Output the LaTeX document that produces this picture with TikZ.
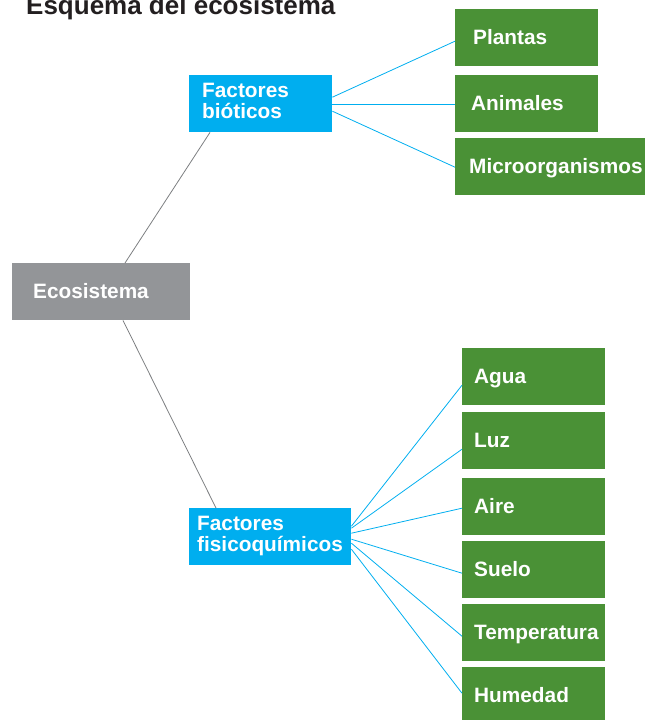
\documentclass[tikz,border=0pt]{standalone}
\usepackage{fontspec}
\setmainfont{Liberation Sans}
\usepackage{xcolor}
\definecolor{azul}{HTML}{00AEEF}
\definecolor{verde}{HTML}{4A9136}
\definecolor{gris}{HTML}{939598}
\definecolor{tinta}{HTML}{231F20}
\tikzset{
  caja/.style={anchor=north west, text=white, font=\fontsize{20.8}{20.6}\selectfont\bfseries,
    minimum height=57pt, inner ysep=0pt, align=left, text height=13.5pt, text depth=0pt},
  caja2/.style={caja, text height=14.5pt, text depth=26pt},
  enlace/.style={azul, line width=0.8},
  tronco/.style={gris!85!black, line width=0.8}
}

\begin{document}
\begin{tikzpicture}[x=1pt, y=-1pt]
\useasboundingbox (0,0) rectangle (645,720);

\node[anchor=base west, inner sep=0, text=tinta, font=\fontsize{26}{26}\selectfont\bfseries] (titulo) at (26,14) {Esquema del ecosistema};

\node[caja, fill=gris, inner xsep=21pt, text width=136pt] (eco) at (12,263) {Ecosistema};
\node[caja2, fill=azul, inner xsep=13pt, text width=117pt] (bio) at (189,75) {Factores\\bióticos};
\node[caja2, fill=azul, inner xsep=8pt, text width=146pt] (fis) at (189,508) {Factores\\fisicoquímicos};

% factores bioticos
\foreach \n/\t/\y/\p/\w in {pla/Plantas/9/18/107, ani/Animales/75/16/111, mic/Microorganismos/138/14/162}{
\node[caja, fill=verde, inner xsep=\p pt, text width=\w pt] (\n) at (455,\y) {\t};
}
\foreach \n/\a/\b in {pla/6.5/-3.5, ani/-0.7/-0.7, mic/-7.5/-0.5}{
\draw[enlace] ([yshift=\a pt]bio.east) -- ([yshift=\b pt]\n.west);
}

% factores fisicoquimicos
\foreach \n/\t/\y in {agua/Agua/348, luz/Luz/412, aire/Aire/478, suelo/Suelo/541, temp/Temperatura/604, hum/Humedad/667}{
\node[caja, fill=verde, inner xsep=12pt, text width=119pt] (\n) at (462,\y) {\t};
}
\foreach \n/\a/\b in {agua/10.5/-8.5, luz/8.5/-8.5, aire/3.5/-1.5, suelo/-2.5/-3.5, temp/-6.5/-3.5, hum/-12.5/2.5}{
\draw[enlace] ([yshift=\a pt]fis.east) -- ([yshift=\b pt]\n.west);
}

\draw[tronco] ([xshift=113pt]eco.north west) -- ([xshift=21pt]bio.south west);
\draw[tronco] ([xshift=111pt]eco.south west) -- ([xshift=27pt]fis.north west);

\end{tikzpicture}
\end{document}
